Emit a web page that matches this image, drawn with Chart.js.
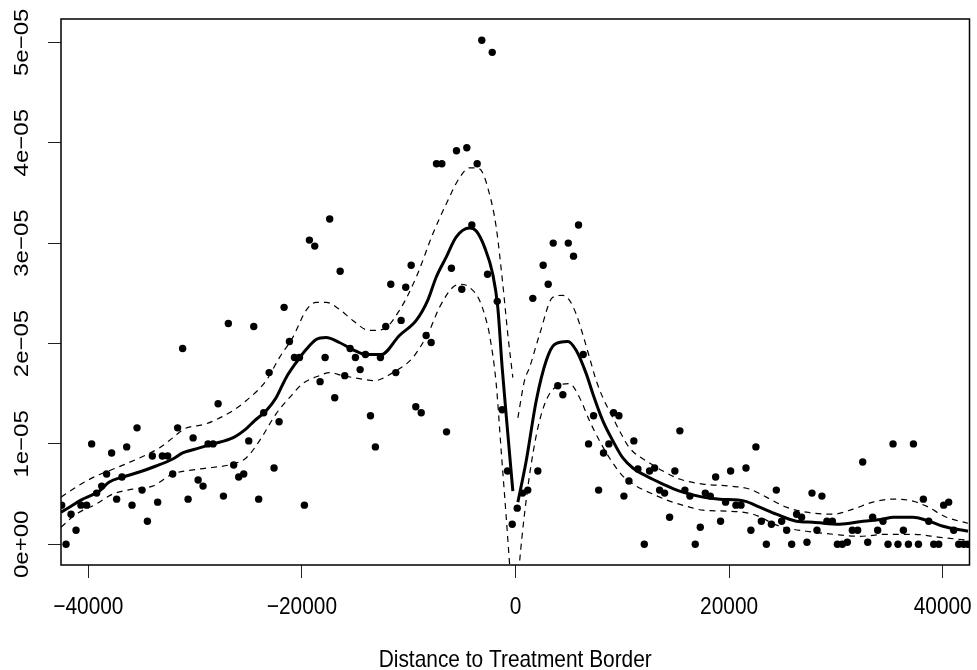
<!DOCTYPE html>
<html>
<head>
<meta charset="utf-8">
<script src="https://cdn.jsdelivr.net/npm/chart.js@4.4.1/dist/chart.umd.min.js"></script>
<style>
  html, body { margin: 0; padding: 0; background: #fff; }
  #wrap { width: 977px; height: 670px; }
</style>
</head>
<body>
<div id="wrap"><canvas id="distChart" width="977" height="670"></canvas></div>
<script>
// binned observations
const obsX = [-42500,-42090,-41620,-41150,-40690,-40160,-39690,-39220,-38750,-38290,-37820,-37350,-36850,-36410,-35910,-35440,-34970,-34470,-34010,-33510,
  -33070,-32570,-32100,-31640,-31170,-30660,-30190,-29720,-29260,-28790,-28320,-27850,-27350,-26890,-26390,-25920,-25450,-24980,-24510,-24050,
  -23580,-23070,-22610,-22140,-21670,-21170,-20700,-20230,-19770,-19300,-18800,-18300,-17830,-17400,-16930,-16420,-15990,-15490,-14990,-14550,
  -14050,-13580,-13120,-12650,-12150,-11680,-11210,-10710,-10280,-9770,-9340,-8830,-8370,-7900,-7400,-6900,-6460,-6000,-5530,-5030,
  -4560,-4090,-3590,-3160,-2620,-2180,-1710,-1250,-750,-310,160,660,1150,1620,2090,2590,3060,3530,3960,4430,
  4940,5430,5900,6340,6840,7310,7780,8240,8740,9180,9680,10150,10620,11080,11460,12060,12550,13020,13490,13960,
  14430,14920,15390,15860,16330,16830,17300,17770,18240,18740,19200,19670,20140,20640,21110,21580,22040,22510,23020,23490,
  23960,24420,24920,25390,25860,26320,26790,27290,27760,28230,28690,29160,29670,30140,30600,31070,31540,32040,32510,32980,
  33440,33910,34410,34880,35350,35810,36320,36790,37260,37730,38190,38690,39160,39630,40090,40560,41030,41500,41970,42370];
const obsY = [0.39e-5,0,0.30e-5,0.14e-5,0.39e-5,0.39e-5,1.00e-5,0.51e-5,0.58e-5,0.70e-5,0.91e-5,0.45e-5,0.67e-5,0.97e-5,0.39e-5,1.16e-5,0.54e-5,0.23e-5,0.88e-5,0.42e-5,
  0.88e-5,0.88e-5,0.70e-5,1.16e-5,1.95e-5,0.45e-5,1.06e-5,0.64e-5,0.58e-5,1.00e-5,1.00e-5,1.40e-5,0.48e-5,2.20e-5,0.79e-5,0.67e-5,0.70e-5,1.03e-5,2.17e-5,0.45e-5,
  1.31e-5,1.71e-5,0.76e-5,1.22e-5,2.36e-5,2.02e-5,1.86e-5,1.86e-5,0.39e-5,3.03e-5,2.97e-5,1.62e-5,1.86e-5,3.24e-5,1.46e-5,2.72e-5,1.68e-5,1.95e-5,1.86e-5,1.74e-5,
  1.89e-5,1.28e-5,0.97e-5,1.86e-5,2.17e-5,2.59e-5,1.71e-5,2.23e-5,2.56e-5,2.78e-5,1.37e-5,1.31e-5,2.08e-5,2.01e-5,3.79e-5,3.79e-5,1.12e-5,2.75e-5,3.92e-5,2.54e-5,
  3.95e-5,3.18e-5,3.79e-5,5.02e-5,2.69e-5,4.90e-5,2.42e-5,1.34e-5,0.73e-5,0.20e-5,0.36e-5,0.51e-5,0.54e-5,2.45e-5,0.73e-5,2.78e-5,2.59e-5,3.00e-5,1.58e-5,1.49e-5,
  3.00e-5,2.87e-5,3.18e-5,1.89e-5,1.00e-5,1.28e-5,0.54e-5,0.91e-5,1.00e-5,1.31e-5,1.28e-5,0.48e-5,0.63e-5,1.03e-5,0.75e-5,0,0.73e-5,0.76e-5,0.54e-5,0.51e-5,
  0.27e-5,0.73e-5,1.13e-5,0.54e-5,0.48e-5,0,0.17e-5,0.51e-5,0.48e-5,0.67e-5,0.23e-5,0.42e-5,0.73e-5,0.39e-5,0.39e-5,0.76e-5,0.14e-5,0.97e-5,0.23e-5,0,
  0.20e-5,0.54e-5,0.23e-5,0.14e-5,0,0.30e-5,0.27e-5,0.02e-5,0.51e-5,0.14e-5,0.48e-5,0.23e-5,0.23e-5,0,0,0.02e-5,0.14e-5,0.14e-5,0.82e-5,0.02e-5,
  0.27e-5,0.14e-5,0.23e-5,0,1.00e-5,0,0.14e-5,0,1.00e-5,0,0.45e-5,0.23e-5,0,0,0.39e-5,0.42e-5,0.14e-5,0,0,0];

// smoothed fit (null = break at the border)
const fitX = [-42560,-41620,-40690,-38970,-38040,-36790,-35220,-33660,-32100,-31170,-29600,-28360,-26480,-25230,-24450,-23350,-22420,-21480,-20540,-19610,
  -18670,-17730,-16490,-15240,-13990,-12580,-10870,-9300,-8220,-7430,-6490,-5560,-4310,-3680,-2900,-2130,-1660,-1250,-720,-250,
  0,220,1000,1940,2880,3650,4900,5690,6620,7240,8180,9120,10050,10990,12240,13800,15360,17550,19110,21450,
  22860,24420,26300,27850,30350,32540,34410,35350,37220,38470,40030,42370];
const fitY = [0.32e-5,0.38e-5,0.44e-5,0.53e-5,0.62e-5,0.67e-5,0.72e-5,0.78e-5,0.85e-5,0.91e-5,0.96e-5,1.00e-5,1.06e-5,1.15e-5,1.23e-5,1.33e-5,1.46e-5,1.66e-5,1.81e-5,1.94e-5,
  2.04e-5,2.06e-5,2.01e-5,1.94e-5,1.89e-5,1.89e-5,2.08e-5,2.23e-5,2.43e-5,2.66e-5,2.86e-5,3.06e-5,3.15e-5,3.12e-5,2.96e-5,2.69e-5,2.36e-5,1.76e-5,1.10e-5,0.53e-5,
  null,0.42e-5,0.83e-5,1.43e-5,1.83e-5,1.99e-5,2.02e-5,1.93e-5,1.70e-5,1.50e-5,1.23e-5,1.03e-5,0.86e-5,0.76e-5,0.68e-5,0.60e-5,0.53e-5,0.47e-5,0.45e-5,0.43e-5,
  0.37e-5,0.30e-5,0.23e-5,0.22e-5,0.20e-5,0.23e-5,0.25e-5,0.27e-5,0.27e-5,0.24e-5,0.18e-5,0.13e-5];

// upper band
const upperX = [-42560,-41150,-39280,-37410,-35220,-33350,-32100,-31010,-28980,-26480,-25230,-23350,-22110,-20860,-19610,-18670,-17730,-16490,-15240,-13680,
  -12430,-10870,-9300,-7750,-6490,-5250,-4310,-3370,-2440,-1810,-1190,-720,-250,
  0,220,840,1310,2250,3490,4430,5060,5690,6300,6930,7560,8180,9120,9740,10680,12550,13800,15360,17550,20050,
  21920,23490,25360,27230,29720,31600,33470,35350,37220,38470,40350,42370];
const upperY = [0.47e-5,0.57e-5,0.68e-5,0.76e-5,0.86e-5,0.96e-5,1.06e-5,1.15e-5,1.20e-5,1.33e-5,1.43e-5,1.63e-5,1.86e-5,2.06e-5,2.33e-5,2.41e-5,2.41e-5,2.34e-5,2.23e-5,2.13e-5,
  2.14e-5,2.33e-5,2.66e-5,3.09e-5,3.39e-5,3.65e-5,3.75e-5,3.74e-5,3.49e-5,3.16e-5,2.59e-5,2.09e-5,1.66e-5,
  null,1.26e-5,1.63e-5,1.76e-5,2.09e-5,2.46e-5,2.48e-5,2.43e-5,2.29e-5,2.09e-5,1.86e-5,1.63e-5,1.46e-5,1.26e-5,1.13e-5,0.96e-5,0.81e-5,0.73e-5,0.65e-5,0.60e-5,0.58e-5,
  0.55e-5,0.47e-5,0.37e-5,0.32e-5,0.30e-5,0.35e-5,0.42e-5,0.45e-5,0.43e-5,0.38e-5,0.27e-5,0.21e-5];

// lower band
const lowerX = [-42560,-41150,-39280,-37720,-35850,-33970,-32100,-29600,-26480,-25230,-23980,-22420,-21170,-19930,-18360,-17420,-16180,-14610,-13210,-11490,
  -9620,-8060,-7120,-5870,-5090,-4310,-3370,-2740,-2440,-1810,-1340,-870,-560,-280,
  0,90,370,840,1470,2250,3190,5060,6000,6930,7870,8800,10050,11310,12860,14430,15990,17550,20050,
  22230,24730,27230,29720,32230,34730,37220,39720,42370];
const lowerY = [0.17e-5,0.30e-5,0.40e-5,0.50e-5,0.55e-5,0.58e-5,0.70e-5,0.75e-5,0.80e-5,0.86e-5,1.03e-5,1.30e-5,1.46e-5,1.60e-5,1.68e-5,1.71e-5,1.68e-5,1.65e-5,1.63e-5,1.71e-5,
  1.86e-5,2.13e-5,2.36e-5,2.56e-5,2.59e-5,2.56e-5,2.43e-5,2.23e-5,2.09e-5,1.60e-5,0.93e-5,0.27e-5,-0.19e-5,-0.60e-5,
  null,-0.60e-5,-0.19e-5,0.30e-5,0.80e-5,1.23e-5,1.50e-5,1.60e-5,1.46e-5,1.23e-5,1.03e-5,0.86e-5,0.68e-5,0.58e-5,0.50e-5,0.43e-5,0.38e-5,0.34e-5,0.33e-5,
  0.30e-5,0.18e-5,0.13e-5,0.10e-5,0.08e-5,0.10e-5,0.10e-5,0.07e-5,0.04e-5];

// axes
const xTicks = [-40000, -20000, 0, 20000, 40000];
const xTickLabels = ['\u221240000', '\u221220000', '0', '20000', '40000'];
const yTicks = [0, 1e-5, 2e-5, 3e-5, 4e-5, 5e-5];
const yTickLabels = ['0e+00', '1e\u221205', '2e\u221205', '3e\u221205', '4e\u221205', '5e\u221205'];
const xTitle = 'Distance to Treatment Border';

const pairs = (xs, ys) => xs.map((v, i) => ({x: v, y: ys[i]}));
const FONT = '24px "Liberation Sans", Arial, Helvetica, sans-serif';
const SQUEEZE = 0.87;

// R-style box + squeezed axis text
const rFrame = {
  id: 'rFrame',
  afterDraw(chart) {
    const {ctx, chartArea: a, scales: {x, y}} = chart;
    ctx.save();
    ctx.strokeStyle = '#000';
    ctx.lineWidth = 1.5;
    ctx.strokeRect(a.left, a.top, a.right - a.left, a.bottom - a.top);
    ctx.fillStyle = '#000';
    ctx.font = FONT;
    ctx.textAlign = 'center';
    ctx.textBaseline = 'alphabetic';
    x.ticks.forEach((t, i) => {
      ctx.save();
      ctx.translate(x.getPixelForValue(t.value), 614);
      ctx.scale(SQUEEZE, 1);
      ctx.fillText(xTickLabels[i], 0, 0);
      ctx.restore();
    });
    y.ticks.forEach((t, i) => {
      ctx.save();
      ctx.translate(28, y.getPixelForValue(t.value));
      ctx.scale(SQUEEZE, 1);
      ctx.rotate(-Math.PI / 2);
      ctx.fillText(yTickLabels[i], 0, 0);
      ctx.restore();
    });
    ctx.save();
    ctx.translate((a.left + a.right) / 2, 667);
    ctx.scale(SQUEEZE, 1);
    ctx.fillText(xTitle, 0, 0);
    ctx.restore();
    ctx.restore();
  }
};

const lineSet = (data, width, dash) => ({
  type: 'line', data, showLine: true, borderColor: '#000', borderWidth: width,
  borderDash: dash, pointRadius: 0, cubicInterpolationMode: 'monotone', spanGaps: false, fill: false
});

new Chart(document.getElementById('distChart'), {
  type: 'scatter',
  data: {
    datasets: [
      lineSet(pairs(fitX, fitY), 3, []),
      lineSet(pairs(upperX, upperY), 1.2, [6, 5]),
      lineSet(pairs(lowerX, lowerY), 1.2, [6, 5]),
      {data: pairs(obsX, obsY), pointRadius: 3.7, pointBackgroundColor: '#000', pointBorderWidth: 0, showLine: false}
    ]
  },
  options: {
    responsive: false, animation: false,
    layout: {padding: {top: 19, right: 7.5, left: 0, bottom: 0}},
    plugins: {legend: {display: false}, tooltip: {enabled: false}},
    scales: {
      x: {
        type: 'linear', min: -42560, max: 42510,
        afterBuildTicks: s => { s.ticks = xTicks.map(v => ({value: v})); },
        afterFit: s => { s.height = 105; },
        ticks: {display: false},
        grid: {drawOnChartArea: false, drawTicks: true, tickLength: 13, color: '#222', lineWidth: 1},
        border: {display: false}
      },
      y: {
        type: 'linear', min: -0.206e-5, max: 5.232e-5,
        afterBuildTicks: s => { s.ticks = yTicks.map(v => ({value: v})); },
        afterFit: s => { s.width = 61; },
        ticks: {display: false},
        grid: {drawOnChartArea: false, drawTicks: true, tickLength: 13, color: '#222', lineWidth: 1},
        border: {display: false}
      }
    }
  },
  plugins: [rFrame]
});
</script>
</body>
</html>
